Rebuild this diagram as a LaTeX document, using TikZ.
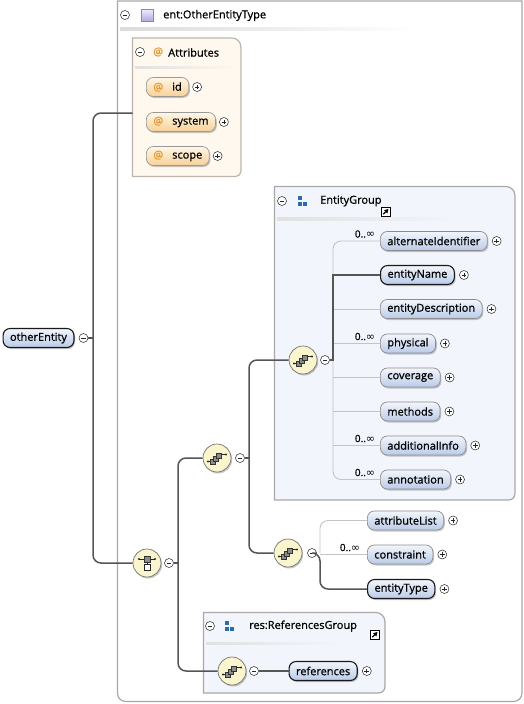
\documentclass[tikz,border=0pt]{standalone}
\usepackage{fontspec}
\setmainfont{Open Sans}[FakeBold=0.9]
\newfontfamily\djv{DejaVu Sans}
\usetikzlibrary{shadows,arrows.meta,calc}
\definecolor{elemtop}{HTML}{F2F6FC}
\definecolor{elembot}{HTML}{BACBE8}
\definecolor{attrtop}{HTML}{FFF7E8}
\definecolor{attrbot}{HTML}{F6D197}
\definecolor{atorange}{HTML}{E8962A}
\definecolor{compfill}{HTML}{FAF5CC}
\definecolor{agfill}{HTML}{FEF8EE}
\definecolor{agborder}{HTML}{BDB5AD}
\definecolor{egfill}{HTML}{F3F5FC}
\definecolor{gborder}{HTML}{A8A8A8}
\definecolor{optline}{HTML}{C4C4C4}
\definecolor{reqline}{HTML}{555555}
\definecolor{grpblue}{HTML}{2A6BB0}
\definecolor{lavtop}{HTML}{F0ECFA}
\definecolor{lavbot}{HTML}{B4A9DE}
\tikzset{
  shad/.style={drop shadow={shadow xshift=1.2pt, shadow yshift=-1.5pt, fill=black, opacity=.22}},
  elem/.style={draw=black!45, line width=.7pt, rounded corners=7pt, top color=elemtop, bottom color=elembot,
    minimum height=19pt, inner xsep=7pt, inner ysep=0pt, anchor=west, font=\fontsize{11}{13}\selectfont, shad},
  reqelem/.style={elem, draw=black!90, line width=1.1pt},
  attr/.style={elem, top color=attrtop, bottom color=attrbot, draw=black!40},
  pm/.style={circle, draw=black!85, fill=white, minimum size=9pt, inner sep=0pt, line width=.5pt},
  plus/.style={pm, path picture={\draw[line width=.6pt] ([xshift=-2.3pt]path picture bounding box.center) -- ([xshift=2.3pt]path picture bounding box.center) ([yshift=-2.3pt]path picture bounding box.center) -- ([yshift=2.3pt]path picture bounding box.center);}},
  minus/.style={pm, path picture={\draw[line width=.6pt] ([xshift=-2.3pt]path picture bounding box.center) -- ([xshift=2.3pt]path picture bounding box.center);}},
  comp/.style={circle, draw=black!55, line width=.7pt, fill=compfill, minimum size=28pt, inner sep=0pt, shad},
  req/.style={draw=reqline, line width=1.5pt},
  opt/.style={draw=optline, line width=.9pt},
  occ/.style={font=\fontsize{10}{11}\selectfont, inner sep=0pt},
  hdr/.style={font=\fontsize{11}{13}\selectfont, anchor=west, inner sep=0pt},
  sq/.style={fill=black!45, draw=black!80, line width=.4pt},
  icl/.style={draw=black!85, line width=.7pt},
  blk/.style={inner sep=0pt, minimum size=0pt},
}
\newcommand\infsym{{\djv\fontsize{11}{11}\selectfont ∞}}
\newcommand\seqicon[1]{%
  \begin{scope}[shift={(#1)}]
    \draw[icl] (-9,3.5) -- (-5,3.5); \fill[black!85] (-9,3.5) circle (1.2pt);
    \draw[icl] (5,-3.5) -- (9,-3.5); \fill[black!85] (9,-3.5) circle (1.2pt);
    \filldraw[sq] (-7,1) rectangle (-2,6);
    \filldraw[sq] (-4,-2) rectangle (1,3);
    \filldraw[sq] (-1,-5) rectangle (4,0);
  \end{scope}}
\newcommand\choiceicon[1]{%
  \begin{scope}[shift={(#1)}]
    \draw[icl] (-8,-4) -- (8,-4);
    \fill[black!85] (-8,-4) circle (1.2pt); \fill[black!85] (8,-4) circle (1.2pt);
    \filldraw[sq] (-2.7,-6.7) rectangle (2.7,-1.3);
    \draw[icl] (0,-1.3) -- (0,1.2);
    \filldraw[fill=white, draw=black!85, line width=.7pt] (-3,1.2) rectangle (3,7.2);
  \end{scope}}
\newcommand\grpicon[2]{%
  \fill[grpblue] (#1-1,#2-5) rectangle (#1+3,#2-1);
  \fill[grpblue] (#1-1,#2+1) rectangle (#1+3,#2+5);
  \fill[grpblue] (#1+4,#2+1) rectangle (#1+8,#2+5);}
\newcommand\linkicon[2]{%
  \draw[fill=white, draw=black, line width=.8pt] (#1,#2) rectangle (#1+9.5,#2+9.5);
  \draw[black, line width=1.1pt, -{Triangle[length=4pt,width=4.5pt]}] (#1+2.3,#2+7.2) -- (#1+7.5,#2+2);}
\begin{document}
\begin{tikzpicture}[x=1pt, y=-1pt]
\useasboundingbox[fill=white] (0,0) rectangle (524,704);

% ---------- outer complex type box
\node[blk, minimum width=404pt, minimum height=700pt, anchor=north west] (typebox) at (117.5,1) {};
\draw[gborder, line width=1.2pt, fill=white] (typebox.south west) [sharp corners] -- (typebox.north west) -- (typebox.north east) [rounded corners=8pt] -- (typebox.south east) -- cycle;
\shade[left color=black!14, right color=white] (120,27.5) rectangle (420,30);
\node[minus] (type-m) at (125,15) {};
\node[blk, minimum size=12pt, top color=lavtop, bottom color=lavbot, draw=black!45, line width=.5pt] (type-ic) at (147,15) {};
\node[hdr] (type-t) at (163,15.5) {ent:OtherEntityType};

% ---------- Attributes box
\node[blk, minimum width=108pt, minimum height=138pt, anchor=north west] (attrbox) at (132.5,38) {};
\draw[agborder, line width=1.2pt, fill=agfill] (attrbox.south west) [sharp corners] -- (attrbox.north west) [rounded corners=9pt] -- (attrbox.north east) [rounded corners=5pt] -- (attrbox.south east) [sharp corners] -- cycle;
\shade[left color=black!12, right color=agfill] (135,66) rectangle (236,68.5);
\node[minus] (attr-m) at (140,52) {};
\node[hdr, text=atorange] (attr-at) at (153,52) {@};
\node[hdr] (attr-t) at (168,52.5) {Attributes};
\node[attr] (id) at (146,87) {{\color{atorange}@}\hspace{9pt}id\hspace{3pt}};
\node[plus] (id-p) at ([xshift=8pt]id.east) {};
\node[attr] (system) at (146,122) {{\color{atorange}@}\hspace{9pt}system};
\node[plus] (system-p) at ([xshift=8pt]system.east) {};
\node[attr] (scope) at (146,156) {{\color{atorange}@}\hspace{9pt}scope};
\node[plus] (scope-p) at ([xshift=8pt]scope.east) {};

% ---------- EntityGroup box
\node[blk, minimum width=240pt, minimum height=313pt, anchor=north west] (egroup) at (274.5,186.5) {};
\draw[gborder, line width=1.2pt, fill=egfill] (egroup.south west) [sharp corners] -- (egroup.north west) [rounded corners=9pt] -- (egroup.north east) [rounded corners=6pt] -- (egroup.south east) [sharp corners] -- cycle;
\shade[left color=black!12, right color=egfill] (277,217.5) rectangle (460,220);
\node[minus] (eg-m) at (282,201) {};
\grpicon{299}{201}
\node[hdr] (eg-t) at (320,201) {EntityGroup};
\linkicon{381}{207}

% ---------- ReferencesGroup box
\node[blk, minimum width=181pt, minimum height=80pt, anchor=north west] (rgroup) at (203.5,612.5) {};
\draw[gborder, line width=1.2pt, fill=egfill] (rgroup.south west) [sharp corners] -- (rgroup.north west) [rounded corners=9pt] -- (rgroup.north east) [rounded corners=6pt] -- (rgroup.south east) [sharp corners] -- cycle;
\shade[left color=black!12, right color=egfill] (206,642) rectangle (340,644.5);
\node[minus] (rg-m) at (210,626) {};
\grpicon{226}{626}
\node[hdr] (rg-t) at (249,626) {res:ReferencesGroup};
\linkicon{370}{630}

% ---------- root element
\node[reqelem] (oe) at (2.5,338) {otherEntity};
\node[minus] (oe-m) at ([xshift=9pt]oe.east) {};

% ---------- compositors
\node[comp] (choice) at (147,563) {};
\node[minus] (ch-m) at (169,563) {};
\node[comp] (seq1) at (217,458) {};
\node[minus] (s1-m) at (240,458) {};
\node[comp] (seq2) at (303,360) {};
\node[minus] (s2-m) at (325,360) {};
\node[comp] (seq3) at (288,553) {};
\node[minus] (s3-m) at (312,553) {};
\node[comp] (seq4) at (232,671) {};
\node[minus] (s4-m) at (254,671) {};
\choiceicon{choice.center}
\seqicon{seq1.center}
\seqicon{seq2.center}
\seqicon{seq3.center}
\seqicon{seq4.center}

% ---------- EntityGroup children
\node[elem] (alt) at (380,241) {alternateIdentifier};
\node[plus] (alt-p) at ([xshift=9pt]alt.east) {};
\node[reqelem] (ename) at (380,275) {entityName};
\node[plus] (ename-p) at ([xshift=9pt]ename.east) {};
\node[elem] (edesc) at (380,309) {entityDescription};
\node[plus] (edesc-p) at ([xshift=9pt]edesc.east) {};
\node[elem] (phys) at (380,343.5) {physical};
\node[plus] (phys-p) at ([xshift=9pt]phys.east) {};
\node[elem] (cov) at (380,377.5) {coverage};
\node[plus] (cov-p) at ([xshift=9pt]cov.east) {};
\node[elem] (meth) at (380,411.5) {methods};
\node[plus] (meth-p) at ([xshift=9pt]meth.east) {};
\node[elem] (addi) at (380,445.5) {additionalInfo};
\node[plus] (addi-p) at ([xshift=9pt]addi.east) {};
\node[elem] (anno) at (380,479.5) {annotation};
\node[plus] (anno-p) at ([xshift=9pt]anno.east) {};
\node[occ] (alt-o) at ([xshift=-15pt,yshift=7pt]alt.west) {0..\infsym};
\node[occ] (phys-o) at ([xshift=-15pt,yshift=7pt]phys.west) {0..\infsym};
\node[occ] (addi-o) at ([xshift=-15pt,yshift=7pt]addi.west) {0..\infsym};
\node[occ] (anno-o) at ([xshift=-15pt,yshift=7pt]anno.west) {0..\infsym};

% ---------- sequence 3 children
\node[elem] (attrl) at (367,520.5) {attributeList};
\node[plus] (attrl-p) at ([xshift=9pt]attrl.east) {};
\node[elem] (constr) at (367,554.5) {constraint};
\node[plus] (constr-p) at ([xshift=9pt]constr.east) {};
\node[reqelem] (etype) at (367,589) {entityType};
\node[plus] (etype-p) at ([xshift=9pt]etype.east) {};
\node[occ] (constr-o) at ([xshift=-17pt,yshift=7pt]constr.west) {0..\infsym};

% ---------- references
\node[reqelem] (refs) at (288.5,671) {references};
\node[plus] (refs-p) at ([xshift=9pt]refs.east) {};

% ---------- junction coordinates
\coordinate (j1) at (93,338);
\coordinate (j2) at (178,563);
\coordinate (j3) at (249,458);
\coordinate (j4) at (333,360);
\coordinate (j5) at (320,553);

% ---------- connectors
\draw[req] (oe-m.east) -- (j1);
\draw[req, rounded corners=8pt] (attrbox.west |- 0,113) -| (j1) |- (choice.west);
\draw[req] (ch-m.east) -- (j2);
\draw[req, rounded corners=8pt] (seq1.west) -| (j2) |- (seq4.west);
\draw[req] (s1-m.east) -- (j3);
\draw[req, rounded corners=8pt] (seq2.west) -| (j3) |- (seq3.west);
% sequence 2
\draw[opt, rounded corners=8pt] (alt.west) -| (j4) |- (anno.west);
\draw[opt] (edesc.west) -- (edesc.west -| j4);
\draw[opt] (phys.west) -- (phys.west -| j4);
\draw[opt] (cov.west) -- (cov.west -| j4);
\draw[opt] (meth.west) -- (meth.west -| j4);
\draw[opt] (addi.west) -- (addi.west -| j4);
\draw[req] (s2-m.east) -- (j4) -- (j4 |- ename.west) -- (ename.west);
% sequence 3
\draw[opt, rounded corners=8pt] (attrl.west) -| (j5);
\draw[opt] (constr.west) -- (constr.west -| j5);
\draw[req, rounded corners=8pt] (s3-m.east) -- (j5) |- (etype.west);
% sequence 4
\draw[req] (s4-m.east) -- (refs.west);
\end{tikzpicture}
\end{document}
